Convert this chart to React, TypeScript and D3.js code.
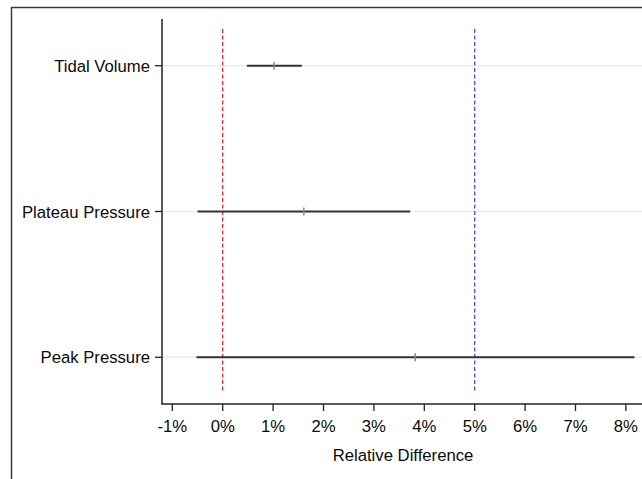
import React from "react";
import * as d3 from "d3";

const categories = ["Tidal Volume", "Plateau Pressure", "Peak Pressure"];
const lowValues = [0.48, -0.5, -0.52];
const estValues = [1.02, 1.61, 3.82];
const highValues = [1.57, 3.72, 8.17];
const xTicks = [-1, 0, 1, 2, 3, 4, 5, 6, 7, 8];
const refZero = 0;
const refMargin = 5;
const xTitle = "Relative Difference";

const W = 642;
const H = 479;
const FONT = "'Liberation Sans', Arial, Helvetica, sans-serif";

export default function App() {
  const x = d3.scaleLinear().domain([-1, 8]).range([172.3, 625.9]);
  const y = d3.scalePoint<string>().domain(categories).range([65.7, 357.3]);
  const axisX = 162;
  const axisY = 404;
  const axisTop = 19;

  return (
    <svg
      width={W}
      height={H}
      style={{ position: "absolute", left: 0, top: 0, background: "#fff" }}
      fontFamily={FONT}
    >
      <rect x={0} y={0} width={W} height={H} fill="#fff" />
      {/* outer frame */}
      <path d={`M11.5,${H + 5} V7.5 H${W + 5}`} fill="none" stroke="#3a3a3a" strokeWidth={1.5} />

      {/* gridlines */}
      {categories.map((c) => (
        <line key={"g" + c} x1={axisX} x2={W} y1={y(c)} y2={y(c)} stroke="#ececec" strokeWidth={1.5} />
      ))}

      {/* reference lines */}
      <line x1={x(refZero)} x2={x(refZero)} y1={29} y2={393} stroke="#e8262a" strokeWidth={1.3} strokeDasharray="4,2.5" />
      <line x1={x(refMargin)} x2={x(refMargin)} y1={29} y2={393} stroke="#3d4fd6" strokeWidth={1.3} strokeDasharray="4,2.5" />

      {/* intervals */}
      {categories.map((c, i) => (
        <g key={"ci" + c}>
          <line x1={x(lowValues[i])} x2={x(highValues[i])} y1={y(c)} y2={y(c)} stroke="#333" strokeWidth={2} />
          <line x1={x(estValues[i])} x2={x(estValues[i])} y1={(y(c) as number) - 4} y2={(y(c) as number) + 4} stroke="#8a8a8a" strokeWidth={1.5} />
        </g>
      ))}

      {/* y axis */}
      <line x1={axisX} x2={axisX} y1={axisTop} y2={axisY} stroke="#222" strokeWidth={1.5} />
      {categories.map((c) => (
        <g key={"yt" + c}>
          <line x1={axisX - 7} x2={axisX} y1={y(c)} y2={y(c)} stroke="#222" strokeWidth={1.3} />
          <text x={150} y={(y(c) as number) + 6} textAnchor="end" fontSize={16.7} fill="#0a0a0a">
            {c}
          </text>
        </g>
      ))}

      {/* x axis */}
      <line x1={axisX - 0.75} x2={W} y1={axisY} y2={axisY} stroke="#222" strokeWidth={1.5} />
      {xTicks.map((t) => (
        <g key={"xt" + t}>
          <line x1={x(t)} x2={x(t)} y1={axisY} y2={axisY + 7} stroke="#222" strokeWidth={1.3} />
          <text x={x(t)} y={431.5} textAnchor="middle" fontSize={16.7} fill="#0a0a0a">
            {`${t}%`}
          </text>
        </g>
      ))}
      <text x={403} y={461} textAnchor="middle" fontSize={16.7} fill="#0a0a0a">
        {xTitle}
      </text>
    </svg>
  );
}
